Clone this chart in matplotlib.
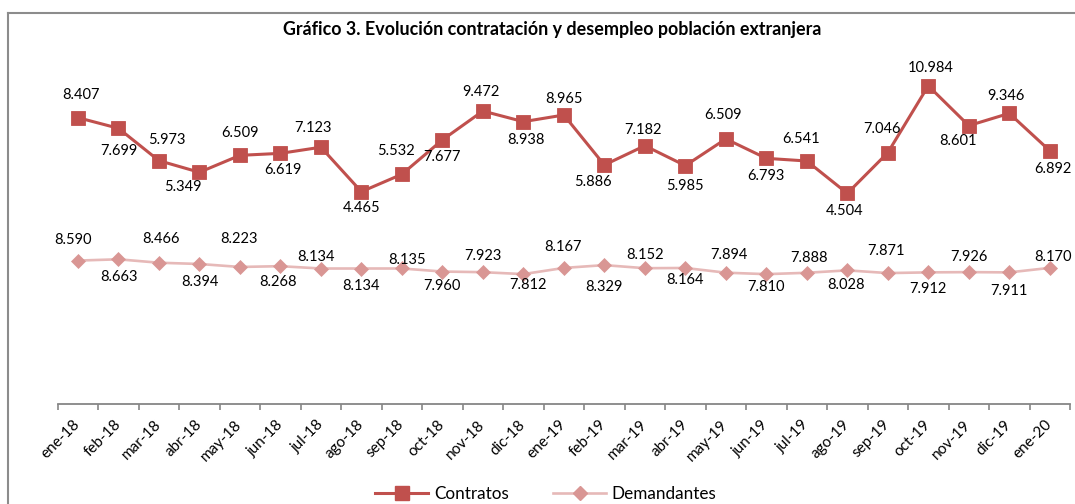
import numpy as np
import matplotlib
matplotlib.use("Agg")
import matplotlib.pyplot as plt
from matplotlib.lines import Line2D

plt.rcParams['font.family'] = ['Lato', 'DejaVu Sans']

# ---------------- data ----------------
meses = ["ene-18", "feb-18", "mar-18", "abr-18", "may-18", "jun-18", "jul-18",
         "ago-18", "sep-18", "oct-18", "nov-18", "dic-18", "ene-19", "feb-19",
         "mar-19", "abr-19", "may-19", "jun-19", "jul-19", "ago-19", "sep-19",
         "oct-19", "nov-19", "dic-19", "ene-20"]

# Contratos: level of each point (miles)
contratos_nivel = [9.06, 8.42, 6.47, 5.77, 6.79, 6.91, 7.28, 4.60, 5.65, 7.72,
                   9.46, 8.82, 9.22, 6.21, 7.37, 6.17, 7.78, 6.61, 6.45, 4.50,
                   6.95, 10.98, 8.58, 9.32, 7.07]
# Contratos: data labels printed on the chart
contratos_etiqueta = ["8.407", "7.699", "5.973", "5.349", "6.509", "6.619", "7.123",
                      "4.465", "5.532", "7.677", "9.472", "8.938", "8.965", "5.886",
                      "7.182", "5.985", "6.509", "6.793", "6.541", "4.504", "7.046",
                      "10.984", "8.601", "9.346", "6.892"]

# Demandantes (miles)
demandantes = [8.590, 8.663, 8.466, 8.394, 8.223, 8.268, 8.134, 8.134, 8.135,
               7.960, 7.923, 7.812, 8.167, 8.329, 8.152, 8.164, 7.894, 7.810,
               7.888, 8.028, 7.871, 7.912, 7.926, 7.911, 8.170]
demandantes_etiqueta = ["8.590", "8.663", "8.466", "8.394", "8.223", "8.268", "8.134",
                        "8.134", "8.135", "7.960", "7.923", "7.812", "8.167", "8.329",
                        "8.152", "8.164", "7.894", "7.810", "7.888", "8.028", "7.871",
                        "7.912", "7.926", "7.911", "8.170"]

# ---------------- layout (label offsets in pixels: dx, dy-down) ----------------
off_c = [(3, -23), (0, 23), (8, -21), (-17, 15), (0, -22), (3, 17), (-8, -19),
         (0, 16), (-6, -23), (0, 17), (-2, -19), (3, 18), (0, -16), (-11, 17),
         (-2, -16), (0, 20), (-3, -24), (0, 18), (-6, -22), (-3, 18), (-6, -24),
         (2, -18), (-11, 15), (-3, -17), (3, 18)]
off_d = [(-5, -21), (1, 18), (2, -24), (1, 18), (-1, -28), (-2, 16), (-5, -12),
         (0, 17), (5, -8), (0, 14), (0, -16), (5, 11), (-1, -21), (0, 22),
         (0, -13), (0, 12), (3, -18), (0, 13), (2, -15), (-1, 15), (-2, -22),
         (0, 17), (0, -15), (0, 19), (3, -11)]

W, H = 1075, 504
fig = plt.figure(figsize=(W / 100, H / 100), dpi=100)
fig.patch.set_facecolor("white")

left_px, right_px, bot_px, top_px = 57.7, 1070.0, 404.3, 60.0
ax = fig.add_axes([left_px / W, 1 - bot_px / H, (right_px - left_px) / W, (bot_px - top_px) / H])
ax2 = ax.twinx()

x = np.arange(len(meses))
c_red = "#C0504D"
c_pink_line = "#E6B9B8"
c_pink_mk = "#D99694"

ax.plot(x, contratos_nivel, color=c_red, lw=2.2, marker="s", markersize=10.5,
        mfc=c_red, mec=c_red, mew=0.6, zorder=3, label="Contratos")
ax2.plot(x, demandantes, color=c_pink_line, lw=1.9, marker="D", markersize=7.6,
         mfc=c_pink_mk, mec=c_pink_mk, mew=0.5, zorder=3, label="Demandantes")

ax.set_xlim(-0.5, len(meses) - 0.5)
ax.set_ylim(-8.207, 12.534)
ax2.set_ylim(0.330, 20.117)

for i, (t, (dx, dy)) in enumerate(zip(contratos_etiqueta, off_c)):
    ax.annotate(t, (x[i], contratos_nivel[i]), xytext=(dx, -dy), textcoords="offset pixels",
                ha="center", va="center", fontsize=10.5, color="black", zorder=5)
for i, (t, (dx, dy)) in enumerate(zip(demandantes_etiqueta, off_d)):
    ax2.annotate(t, (x[i], demandantes[i]), xytext=(dx, -dy), textcoords="offset pixels",
                 ha="center", va="center", fontsize=10.5, color="black", zorder=5)

for a in (ax, ax2):
    a.set_yticks([])
    for s in ("left", "right", "top"):
        a.spines[s].set_visible(False)
    a.patch.set_visible(False)
ax2.spines["bottom"].set_visible(False)
ax.spines["bottom"].set_color("#868686")
ax.spines["bottom"].set_linewidth(1.3)

ax.set_xticks(x)
ax.set_xticklabels(meses, rotation=45, ha="right", va="center", rotation_mode="anchor",
                   fontsize=11)
ax.set_xticks(np.arange(-0.5, len(meses), 1), minor=True)
ax.tick_params(axis="x", which="major", length=0, pad=13)
ax.tick_params(axis="x", which="minor", length=4, width=1.2, color="#868686")

fig.text(552 / W, 1 - 30 / H, "Gráfico 3. Evolución contratación y desempleo población extranjera",
         ha="center", va="center", fontsize=12.9, fontweight="bold")

# outer chart frame (left and top edges visible)
fig.add_artist(Line2D([8.3 / W, 8.3 / W], [0, 1 - 13 / H], transform=fig.transFigure,
                      color="#8c8c8c", lw=1.5))
fig.add_artist(Line2D([8.3 / W, 1], [1 - 13 / H, 1 - 13 / H], transform=fig.transFigure,
                      color="#8c8c8c", lw=1.5))

h1 = Line2D([], [], color=c_red, lw=2.2, marker="s", markersize=10.5, mfc=c_red, mec=c_red)
h2 = Line2D([], [], color=c_pink_line, lw=1.9, marker="D", markersize=7.6,
            mfc=c_pink_mk, mec=c_pink_mk)
fig.legend([h1, h2], ["Contratos", "Demandantes"], loc="center",
           bbox_to_anchor=(546 / W, 1 - 494 / H), ncol=2, frameon=False, fontsize=12.3,
           handlelength=3.1, handletextpad=0.33, columnspacing=2.6, borderpad=0.1)

fig.savefig("out.png", dpi=100)
